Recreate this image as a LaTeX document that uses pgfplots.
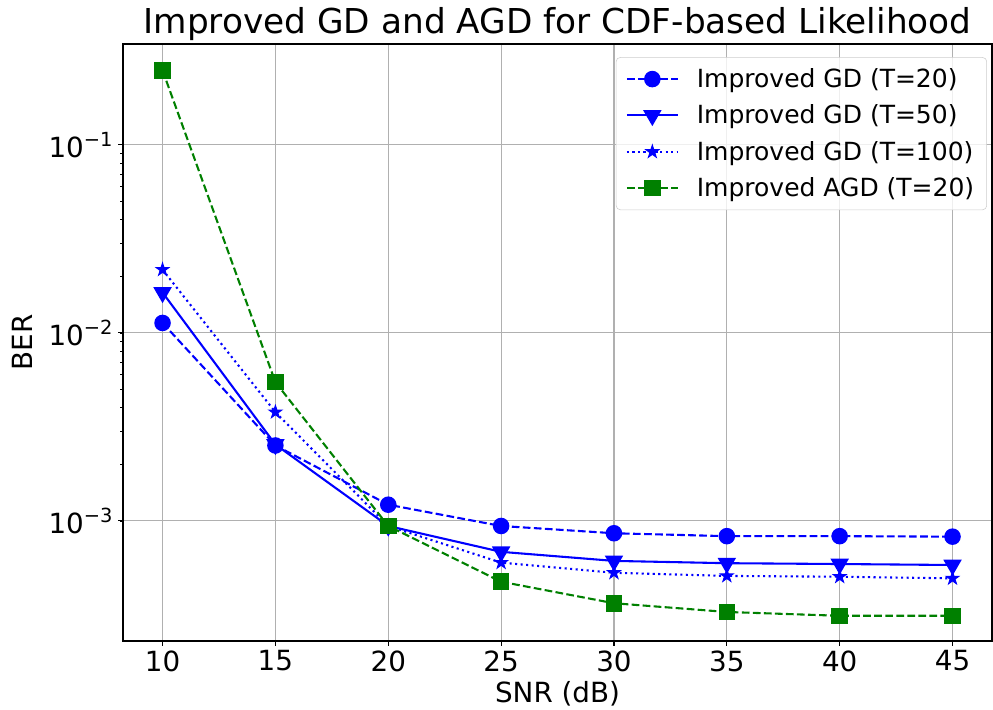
\documentclass[border=0pt]{standalone}
\usepackage{fontspec}
\setmainfont{DejaVu Sans}
\usepackage{pgfplots}
\pgfplotsset{compat=1.18}
\definecolor{mblue}{RGB}{0,0,255}
\definecolor{mgreen}{RGB}{0,128,0}
\definecolor{mgrid}{HTML}{B0B0B0}
\pgfdeclareplotmark{fstar}{%
  \pgfpathmoveto{\pgfqpointpolar{90}{\pgfplotmarksize}}%
  \pgfpathlineto{\pgfqpointpolar{126}{0.382\pgfplotmarksize}}%
  \pgfpathlineto{\pgfqpointpolar{162}{\pgfplotmarksize}}%
  \pgfpathlineto{\pgfqpointpolar{198}{0.382\pgfplotmarksize}}%
  \pgfpathlineto{\pgfqpointpolar{234}{\pgfplotmarksize}}%
  \pgfpathlineto{\pgfqpointpolar{270}{0.382\pgfplotmarksize}}%
  \pgfpathlineto{\pgfqpointpolar{306}{\pgfplotmarksize}}%
  \pgfpathlineto{\pgfqpointpolar{342}{0.382\pgfplotmarksize}}%
  \pgfpathlineto{\pgfqpointpolar{18}{\pgfplotmarksize}}%
  \pgfpathlineto{\pgfqpointpolar{54}{0.382\pgfplotmarksize}}%
  \pgfpathclose
  \pgfusepathqfillstroke}
\begin{document}
\begin{tikzpicture}
\useasboundingbox (-88.6pt,-49.7pt) rectangle (626.4pt,461.5pt);
\begin{semilogyaxis}[
 at={(0,0)}, anchor=south west,
 scale only axis, width=625.7pt, height=429.8pt,
 xmin=8.25, xmax=46.75, ymin=2.3e-4, ymax=0.344,
 xtick={10,15,20,25,30,35,40,45},
 ytick={1e-3,1e-2,1e-1},
 yticklabels={10\textsuperscript{−3},10\textsuperscript{−2},10\textsuperscript{−1}},
 /pgf/number format/assume math mode=true,
 tick label style={font=\fontsize{20}{24}\selectfont},
 tick align=outside, tick pos=left,
 major tick length=3.5pt, minor tick length=2pt,
 every tick/.style={black, line width=0.8pt},
 minor tick style={line width=0.6pt},
 axis line style={line width=0.8pt},
 grid=major, major grid style={mgrid, line width=0.8pt},
 xlabel={SNR (dB)}, ylabel={BER},
 label style={font=\fontsize{20}{24}\selectfont},
 x label style={at={(axis description cs:0.5,-0.1039)}, anchor=base},
 y label style={at={(axis description cs:-0.1047,0.5)}, anchor=base, rotate=0},
 title={Improved GD and AGD for CDF-based Likelihood},
 every axis title/.style={font=\fontsize{24.7}{28}\selectfont, at={(axis description cs:0.5,1.0184)}, anchor=base},
 legend style={at={(rel axis cs:0.9942,0.978)}, anchor=north east,
   draw=black!20, rounded corners=3pt, fill=white, fill opacity=0.8, text opacity=1,
   font=\fontsize{18}{21}\selectfont, row sep=7pt, column sep=11pt,
   inner xsep=7pt, inner ysep=6pt},
 legend cell align=left,
 legend image code/.code={\draw[fill opacity=1, draw opacity=1, mark repeat=2,mark phase=2] plot coordinates {(0pt,0pt) (18.3pt,0pt) (36.6pt,0pt)};},
 every axis plot/.append style={line width=1.5pt},
]
\addplot[mblue, dash pattern=on 5.55pt off 2.4pt, mark=*, mark size=5.2pt, mark options={solid, fill=mblue, draw=mblue}]
 coordinates {(10,0.0113)(15,0.00252)(20,0.00122)(25,0.00094)(30,0.00086)(35,0.00083)(40,0.00083)(45,0.000825)};
\addlegendentry{Improved GD (T=20)}
\addplot[mblue, solid, mark=triangle*, mark size=6.2pt, mark options={solid, rotate=180, fill=mblue, draw=mblue}]
 coordinates {(10,0.0164)(15,0.00255)(20,0.00094)(25,0.000685)(30,0.000613)(35,0.000596)(40,0.00059)(45,0.000583)};
\addlegendentry{Improved GD (T=50)}
\addplot[mblue, dash pattern=on 1.5pt off 2.475pt, mark=fstar, mark size=4.7pt, mark options={solid, fill=mblue, draw=mblue, line width=0.8pt}]
 coordinates {(10,0.0217)(15,0.00379)(20,0.00094)(25,0.0006)(30,0.00053)(35,0.00051)(40,0.000505)(45,0.000495)};
\addlegendentry{Improved GD (T=100)}
\addplot[mgreen, dash pattern=on 5.55pt off 2.4pt, mark=square*, mark size=5.2pt, mark options={solid, fill=mgreen, draw=mgreen}]
 coordinates {(10,0.249)(15,0.00547)(20,0.00094)(25,0.000475)(30,0.000365)(35,0.000328)(40,0.000313)(45,0.000313)};
\addlegendentry{Improved AGD (T=20)}
\end{semilogyaxis}
\end{tikzpicture}
\end{document}
